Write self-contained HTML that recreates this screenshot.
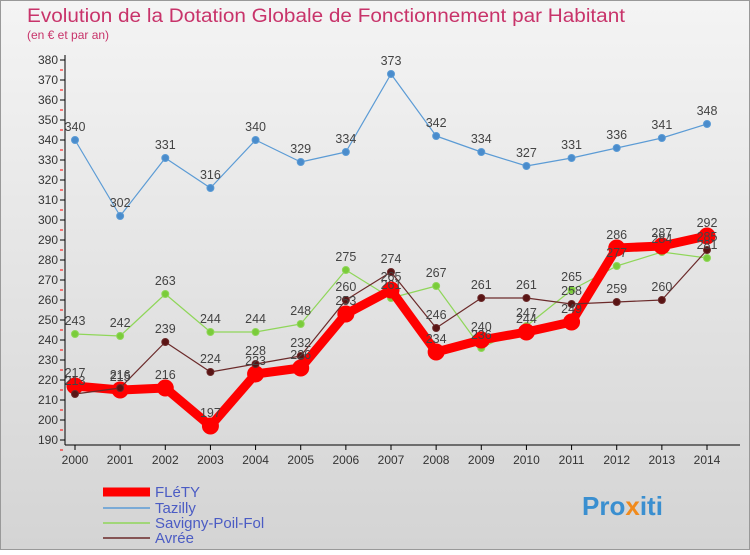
<!DOCTYPE html>
<html><head><meta charset="utf-8"><style>
body{margin:0;width:750px;height:550px;overflow:hidden;font-family:"Liberation Sans",sans-serif}
</style></head><body>
<svg width="750" height="550" xmlns="http://www.w3.org/2000/svg" font-family="Liberation Sans, sans-serif">
<defs><linearGradient id="bg" x1="0" y1="0" x2="0" y2="1"><stop offset="0" stop-color="#f4f4f4"/><stop offset="1" stop-color="#d4d4d4"/></linearGradient></defs>
<rect x="0.5" y="0.5" width="749" height="549" fill="url(#bg)" stroke="#999"/>
<text x="27" y="22" font-size="19" textLength="598" lengthAdjust="spacingAndGlyphs" fill="#c8336a">Evolution de la Dotation Globale de Fonctionnement par Habitant</text>
<text x="27" y="39" font-size="12" fill="#c8336a">(en € et par an)</text>
<g id="axes"></g><g id="series"></g><g id="labels"></g>
<g>
<line x1="103" y1="492" x2="150" y2="492" stroke="#ff0000" stroke-width="9"/><text x="155" y="497" font-size="15" fill="#4b5cc4">FLéTY</text>
<line x1="103" y1="508" x2="150" y2="508" stroke="#5b9bd5" stroke-width="1.5"/><text x="155" y="513" font-size="15" fill="#4b5cc4">Tazilly</text>
<line x1="103" y1="523" x2="150" y2="523" stroke="#8fd659" stroke-width="1.5"/><text x="155" y="528" font-size="15" fill="#4b5cc4">Savigny-Poil-Fol</text>
<line x1="103" y1="538" x2="150" y2="538" stroke="#6b2a2a" stroke-width="1.5"/><text x="155" y="543" font-size="15" fill="#4b5cc4">Avrée</text>
</g>
<text x="582" y="515" font-size="26" font-weight="bold" fill="#3a8fd0">Pro<tspan fill="#f08a1c">x</tspan>iti</text>
</svg>
<script>
const years=["2000","2001","2002","2003","2004","2005","2006","2007","2008","2009","2010","2011","2012","2013","2014"];
const flety=[217,215,216,197,223,226,253,265,234,240,244,249,286,287,292];
const tazilly=[340,302,331,316,340,329,334,373,342,334,327,331,336,341,348];
const savigny=[243,242,263,244,244,248,275,261,267,236,247,265,277,284,281];
const avree=[213,216,239,224,228,232,260,274,246,261,261,258,259,260,285];
const yTicks=[190,200,210,220,230,240,250,260,270,280,290,300,310,320,330,340,350,360,370,380];
const NS="http://www.w3.org/2000/svg";
const X=i=>75+i*(707-75)/14, Y=v=>440-(v-190)*2;
function mk(t,a,p){const e=document.createElementNS(NS,t);for(const k in a)e.setAttribute(k,a[k]);p.appendChild(e);return e;}
const ax=document.getElementById('axes');
const yl=mk('line',{x1:65,y1:55,x2:65,y2:445,stroke:'#000'},ax);


const xl=mk('line',{x1:65,y1:445,x2:740,y2:445,stroke:'#000'},ax);


yTicks.forEach(v=>{mk('line',{x1:60,y1:Y(v),x2:65,y2:Y(v),stroke:'#000'},ax);
mk('line',{x1:60,y1:Y(v)+10,x2:63,y2:Y(v)+10,stroke:'#f00'},ax);
const t=mk('text',{x:58,y:Y(v)+4,'font-size':12,'text-anchor':'end',fill:'#333'},ax);t.textContent=v;

});
years.forEach((y,i)=>{mk('line',{x1:X(i),y1:445,x2:X(i),y2:450,stroke:'#000'},ax);
const t=mk('text',{x:X(i),y:464,'font-size':12,'text-anchor':'middle',fill:'#333'},ax);t.textContent=y;

});
const S=document.getElementById('series'),L=document.getElementById('labels');
function draw(data,name,color,w,r,fill){
const g=mk('g',{},S);


mk('polyline',{points:data.map((v,i)=>X(i)+','+Y(v)).join(' '),fill:'none',stroke:color,'stroke-width':w,'stroke-linejoin':'round'},g);
data.forEach((v,i)=>{const c=mk('circle',{cx:X(i),cy:Y(v),r:r,fill:fill,stroke:color},g);


const t=mk('text',{x:X(i),y:Y(v)-9,'font-size':12.5,'text-anchor':'middle',fill:'#444'},L);t.textContent=v;

});}
draw(tazilly,'tazilly','#5b9bd5',1.2,3.5,'#4a8ccc');
draw(savigny,'savigny','#8fd659',1.2,3.5,'#7acc3a');
draw(flety,'flety','#ff0000',9,8,'#ff0000');
draw(avree,'avree','#6b2a2a',1.2,3.5,'#5a1414');
</script>
</body></html>
